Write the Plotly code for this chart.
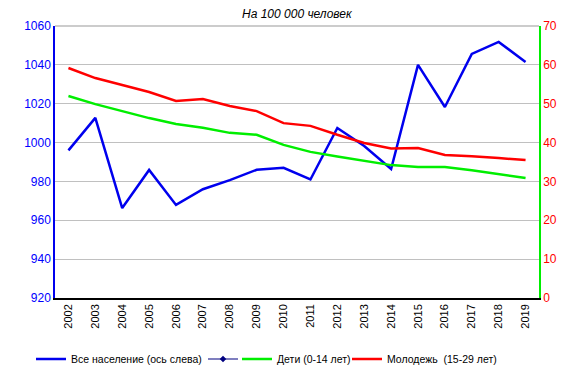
import plotly.graph_objects as go

years = [str(y) for y in range(2002, 2020)]
all_pop = [996, 1012.7, 966.3, 985.9, 967.9, 976, 980.7, 986, 987, 981,
           1007.5, 998.2, 986.4, 1040, 1018.3, 1045.6, 1051.8, 1041.5]
children = [52, 49.9, 48.1, 46.3, 44.8, 43.8, 42.5, 42, 39.4, 37.6,
            36.4, 35.3, 34.2, 33.7, 33.7, 32.9, 31.9, 30.9]
youth = [59.2, 56.6, 54.8, 53, 50.7, 51.2, 49.4, 48.1, 45, 44.3,
         42, 39.9, 38.5, 38.6, 36.8, 36.5, 36, 35.5]
left_ticks = [920, 940, 960, 980, 1000, 1020, 1040, 1060]
right_ticks = [0, 10, 20, 30, 40, 50, 60, 70]

font = "Liberation Sans, Arial, sans-serif"
L, R, T, B = 55, 40, 26, 78
PW = 579 - L - R


def lx(px):
    return (px - L) / PW


fig = go.Figure()
fig.add_trace(go.Scatter(x=years, y=all_pop, mode="lines", name="Все население (ось слева)",
                         line=dict(color="#0000ee", width=2.5), yaxis="y", legend="legend"))
fig.add_trace(go.Scatter(x=[None], y=[None], mode="lines+markers", name="",
                         line=dict(color="#000080", width=1.2),
                         marker=dict(symbol="diamond", size=5, color="#000080"), yaxis="y2",
                         legend="legend2"))
fig.add_trace(go.Scatter(x=years, y=children, mode="lines", name="Дети (0-14 лет)",
                         line=dict(color="#00ee00", width=2.5), yaxis="y2", legend="legend3"))
fig.add_trace(go.Scatter(x=years, y=youth, mode="lines", name="Молодежь  (15-29 лет)",
                         line=dict(color="#ff0000", width=2.5), yaxis="y2", legend="legend4"))

ly = 1 - 359 / 376
leg = dict(yref="container", y=ly, yanchor="middle", xanchor="left",
           font=dict(size=10.5, color="black"), itemwidth=30, bgcolor="rgba(0,0,0,0)")

fig.update_layout(
    width=579, height=376,
    margin=dict(l=L, r=R, t=T, b=B, autoexpand=False),
    paper_bgcolor="white", plot_bgcolor="white",
    font=dict(family=font, size=11, color="black"),
    showlegend=True,
    legend=dict(leg, x=lx(31)),
    legend2=dict(leg, x=lx(203)),
    legend3=dict(leg, x=lx(237)),
    legend4=dict(leg, x=lx(347)),
    xaxis=dict(type="category", tickangle=-90, showline=True, linecolor="black", linewidth=1.5,
               showgrid=False, ticks="", tickfont=dict(size=11, color="black"), range=[-0.5, 17.5],
               automargin=False),
    yaxis=dict(range=[920, 1060], tickvals=left_ticks, showline=True, linecolor="#0000ee", linewidth=1.5,
               gridcolor="#c0c0c0", gridwidth=1, tickfont=dict(size=12, color="#0000ff"), zeroline=False,
               ticks="", automargin=False),
    yaxis2=dict(range=[0, 70], tickvals=right_ticks, overlaying="y", side="right", showline=True,
                linecolor="#00ee00", linewidth=1.5, showgrid=False, zeroline=False, automargin=False,
                tickfont=dict(size=12, color="rgb(255,0,0)")),
    shapes=[dict(type="line", xref="paper", yref="paper", x0=0, x1=1, y0=1, y1=1,
                 line=dict(color="#999999", width=1))],
    annotations=[dict(text="<i>На 100 000 человек</i>", xref="paper", yref="paper", x=0.5, y=1,
                      yshift=12, showarrow=False, font=dict(size=12, color="black"),
                      xanchor="center", yanchor="middle")],
)
fig.write_html("out.html", config={"displayModeBar": False},
               post_script="document.body.style.margin='0';")
